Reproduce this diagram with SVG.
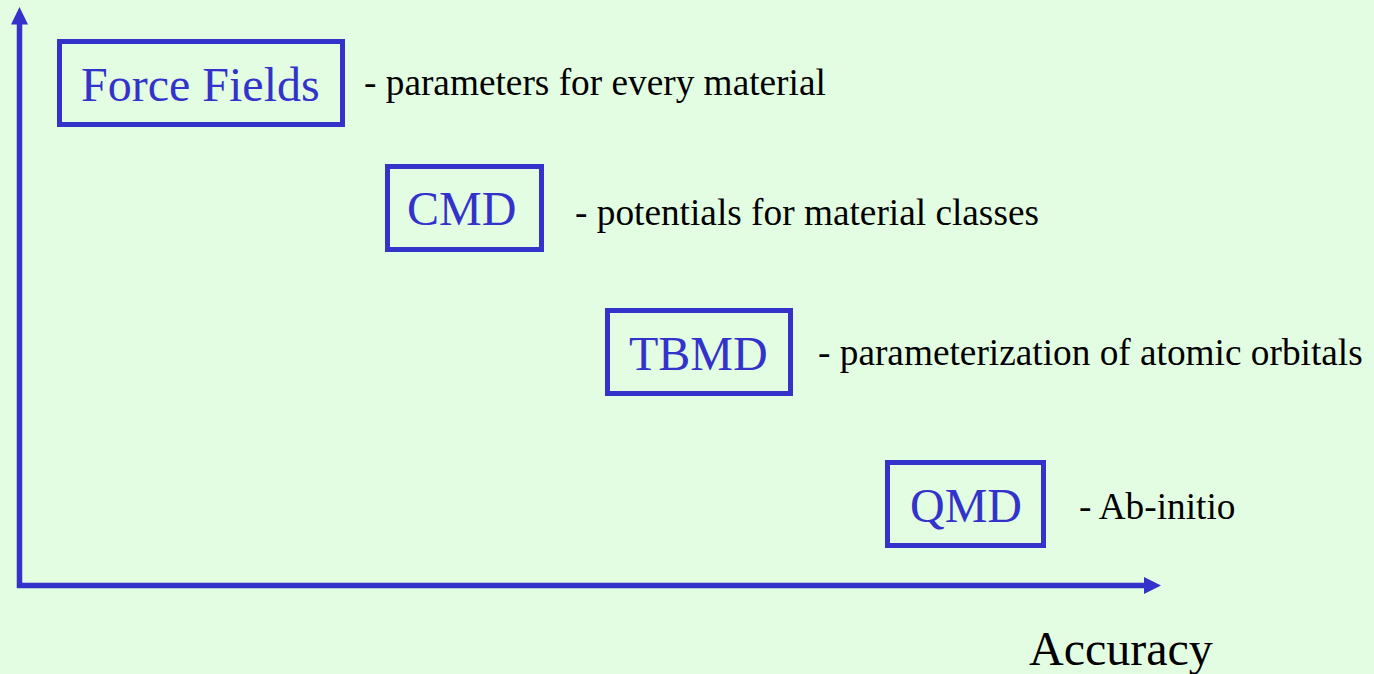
<svg xmlns="http://www.w3.org/2000/svg" width="1374" height="674" viewBox="0 0 1374 674">
<defs>
<style>
.box{fill:none;stroke:#3333CC;stroke-width:5}
.lbl{font-family:"Liberation Serif","Times New Roman",serif;font-size:48px;fill:#3333CC}
.desc{font-family:"Liberation Serif","Times New Roman",serif;font-size:37.3px;fill:#000}
.axis{fill:none;stroke:#3333CC;stroke-width:5.5}
</style>
</defs>
<rect width="1374" height="674" fill="#E3FDE2"/>
<g id="connectors">
<path class="axis" d="M19.5,588 V24"/>
<polygon points="19.5,7 11,24.5 28,24.5" fill="#3333CC"/>
<path class="axis" d="M17,585.5 H1145"/>
<polygon points="1161,585.5 1144,577 1144,594" fill="#3333CC"/>
</g>
<g id="node-ff">
<rect class="box" x="59.5" y="41.5" width="283" height="83"/>
<text class="lbl" x="81" y="101">Force Fields</text>
<text class="desc" x="364" y="95">- parameters for every material</text>
</g>
<g id="node-cmd">
<rect class="box" x="387.5" y="166.5" width="154" height="83"/>
<text class="lbl" x="407" y="225">CMD</text>
<text class="desc" x="575" y="225">- potentials for material classes</text>
</g>
<g id="node-tbmd">
<rect class="box" x="607.5" y="310.5" width="183" height="83"/>
<text class="lbl" x="629" y="370">TBMD</text>
<text class="desc" x="818" y="365">- parameterization of atomic orbitals</text>
</g>
<g id="node-qmd">
<rect class="box" x="887.5" y="462.5" width="156" height="83"/>
<text class="lbl" x="910" y="522">QMD</text>
<text class="desc" x="1079" y="519">- Ab-initio</text>
</g>
<g id="axis-label">
<text class="lbl" style="fill:#000;font-size:48px" x="1029" y="665">Accuracy</text>
</g>
</svg>
